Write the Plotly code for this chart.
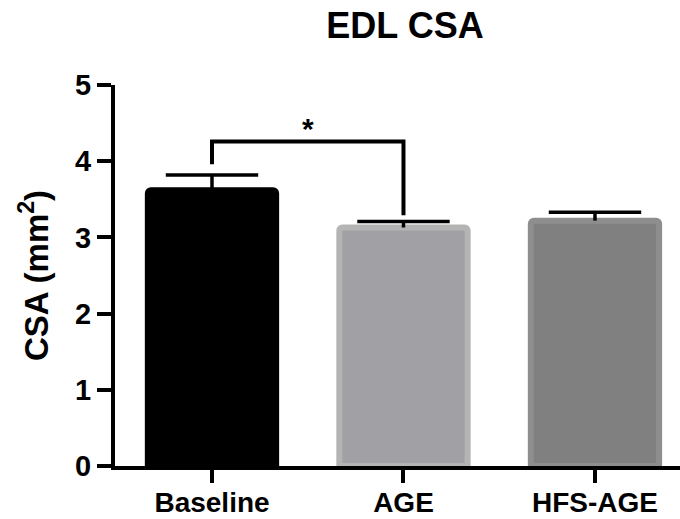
import plotly.graph_objects as go

categories = ["Baseline", "AGE", "HFS-AGE"]
means = [3.62, 3.13, 3.22]
sem_up = [0.20, 0.08, 0.11]
fill_colors = ["#000000", "#a1a0a5", "#808080"]
edge_colors = ["#000000", "#b4b4b4", "#8e8e8e"]
y_ticks = [0, 1, 2, 3, 4, 5]

# significance bracket between Baseline and AGE
sig_pair = [0, 1]
sig_top = 4.26
sig_leg_ends = [3.96, 3.29]
sig_label = "*"
sig_label_y = 4.43

FONT = "Liberation Sans, Arial, sans-serif"

xs = list(range(len(categories)))
err_tops = [m + e for m, e in zip(means, sem_up)]

fig = go.Figure()
fig.add_trace(go.Bar(
    x=xs,
    y=means,
    width=0.67,
    marker=dict(color=fill_colors, line=dict(color=edge_colors, width=6), cornerradius=3),
    showlegend=False,
))
# error bar stems (upper only) with caps drawn as horizontal line markers
fig.add_trace(go.Scatter(
    x=xs, y=err_tops, mode="markers",
    marker=dict(symbol="line-ew-open", size=66, color="black", line=dict(color="black", width=3.5)),
    error_y=dict(type="data", symmetric=False, array=[0] * len(sem_up), arrayminus=sem_up,
                 color="black", thickness=3.5, width=0),
    showlegend=False, hoverinfo="skip",
))

# bracket
xa, xb = sig_pair
fig.add_trace(go.Scatter(
    x=[xa, xa, xb, xb],
    y=[sig_leg_ends[0], sig_top, sig_top, sig_leg_ends[1]],
    mode="lines",
    line=dict(color="black", width=4),
    showlegend=False,
    hoverinfo="skip",
))
fig.add_annotation(x=(xa + xb) / 2, y=sig_label_y, text=sig_label, showarrow=False,
                   font=dict(family=FONT, size=30, color="black", weight="bold"),
                   xref="x", yref="y")

fig.update_layout(
    width=680, height=519,
    margin=dict(l=115, r=0, t=85, b=53),
    paper_bgcolor="white", plot_bgcolor="white",
    title=dict(text="EDL CSA", x=405 / 680, xanchor="center", y=1 - 25 / 519, yanchor="middle",
               xref="container", yref="container",
               font=dict(family=FONT, size=36, color="black", weight="bold")),
    font=dict(family=FONT, color="black"),
)

fig.update_xaxes(
    range=[-0.5065, 2.444],
    tickmode="array", tickvals=xs, ticktext=categories,
    showgrid=False, zeroline=False, automargin=False,
    showline=True, linecolor="black", linewidth=4,
    ticks="outside", ticklen=13, tickwidth=4, tickcolor="black",
    ticklabelstandoff=-5,
    tickfont=dict(family=FONT, size=28, color="black", weight="bold"),
)
fig.update_yaxes(
    range=[0, 5],
    tickmode="array", tickvals=y_ticks,
    showgrid=False, zeroline=False,
    showline=True, linecolor="black", linewidth=4,
    ticks="outside", ticklen=14, tickwidth=4, tickcolor="black",
    tickfont=dict(family=FONT, size=29, color="black", weight="bold"),
    title=dict(text="CSA (mm<sup>2</sup>)", standoff=18,
               font=dict(family=FONT, size=33, color="black", weight="bold")),
)

fig.write_html("out.html")
